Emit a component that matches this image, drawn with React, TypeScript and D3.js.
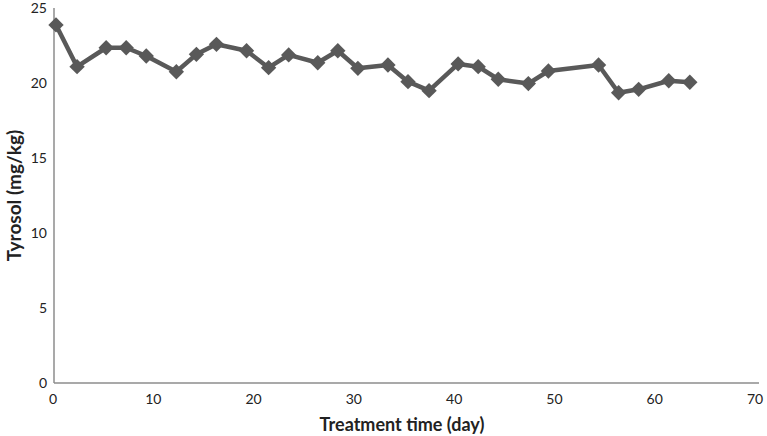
import React from "react";
import * as d3 from "d3";

// Tyrosol content over treatment time
const days = [
  0.2, 2.3, 5.2, 7.2, 9.2, 12.2, 14.2, 16.2, 19.2, 21.4, 23.4, 26.3, 28.3, 30.3,
  33.3, 35.3, 37.4, 40.3, 42.3, 44.3, 47.3, 49.3, 54.3, 56.3, 58.3, 61.3, 63.4,
];
const tyrosol = [
  23.87, 21.09, 22.35, 22.35, 21.8, 20.75, 21.91, 22.58, 22.15, 21.02, 21.87,
  21.35, 22.15, 20.98, 21.2, 20.09, 19.49, 21.27, 21.09, 20.25, 19.96, 20.8,
  21.2, 19.35, 19.58, 20.15, 20.05,
];
const xTicks = [0, 10, 20, 30, 40, 50, 60, 70];
const yTicks = [0, 5, 10, 15, 20, 25];

const W = 767;
const H = 436;
const margin = { top: 8, right: 8, bottom: 53, left: 54 };
const font = "Lato, 'Open Sans', sans-serif";
const lineColor = "#595959";
const axisColor = "#8c8c8c";

export default function App() {
  const x = d3.scaleLinear().domain([0, 70]).range([margin.left, W - margin.right - 3]);
  const y = d3.scaleLinear().domain([0, 25]).range([H - margin.bottom, margin.top]);

  const pts = days.map((d, i) => [x(d), y(tyrosol[i])] as [number, number]);
  const path = d3.line()(pts) || "";
  const diamond = d3.symbol().type(d3.symbolDiamond2).size(150)() || "";

  const x0 = x(0);
  const y0 = y(0);

  return (
    <svg
      width={W}
      height={H}
      style={{ position: "absolute", left: 0, top: 0, background: "#fff" }}
    >
      {/* axes */}
      <line x1={x0} x2={x0} y1={y(25)} y2={y0} stroke={axisColor} strokeWidth={1.5} />
      <line x1={x0} x2={x(70) + 3} y1={y0} y2={y0} stroke={axisColor} strokeWidth={1.5} />

      {yTicks.map((t) => (
        <text
          key={"y" + t}
          x={x0 - 7}
          y={y(t)}
          dy="0.35em"
          textAnchor="end"
          fontFamily={font}
          fontSize={14}
          fill="#222"
        >
          {t}
        </text>
      ))}
      {xTicks.map((t) => (
        <text
          key={"x" + t}
          x={x(t) - 1}
          y={y0 + 21}
          textAnchor="middle"
          fontFamily={font}
          fontSize={14}
          fill="#222"
        >
          {t}
        </text>
      ))}

      <text
        x={402}
        y={431}
        textAnchor="middle"
        fontFamily={font}
        fontSize={18}
        fontWeight="bold"
        fill="#222"
      >
        Treatment time (day)
      </text>
      <text
        transform={`translate(21,${(y(25) + y0) / 2}) rotate(-90)`}
        textAnchor="middle"
        fontFamily={font}
        fontSize={19}
        fontWeight="bold"
        fill="#222"
      >
        Tyrosol (mg/kg)
      </text>

      {/* series */}
      <path d={path} fill="none" stroke={lineColor} strokeWidth={4.5} strokeLinejoin="round" />
      {pts.map(([px, py], i) => (
        <path key={i} d={diamond} transform={`translate(${px},${py})`} fill={lineColor} />
      ))}
    </svg>
  );
}
